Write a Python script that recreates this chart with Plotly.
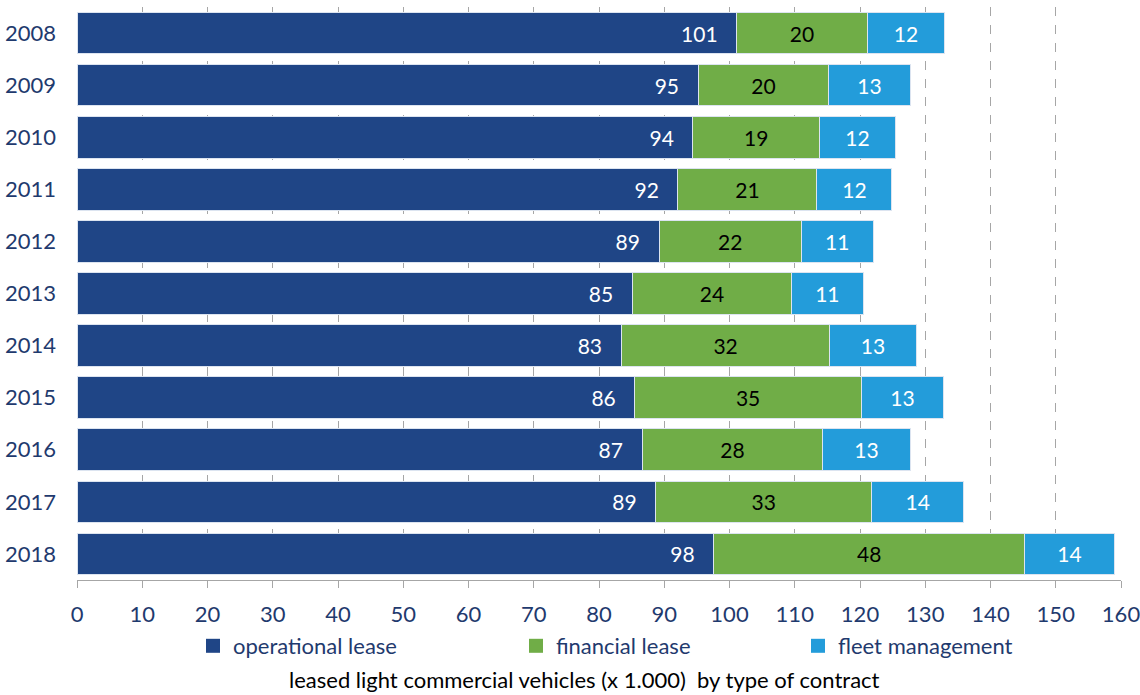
import plotly.graph_objects as go

years = ["2008", "2009", "2010", "2011", "2012", "2013", "2014", "2015", "2016", "2017", "2018"]
operational = [101.1, 95.2, 94.4, 92.1, 89.2, 85.1, 83.4, 85.5, 86.6, 88.7, 97.6]
financial = [20.0, 20.0, 19.4, 21.3, 21.8, 24.4, 32.0, 34.7, 27.7, 33.1, 47.6]
fleet = [11.9, 12.5, 11.6, 11.5, 11.0, 11.0, 13.2, 12.6, 13.4, 14.1, 13.8]
x_ticks = list(range(0, 161, 10))
series_names = ["operational lease", "financial lease", "fleet management"]

FONT = "Lato, Calibri, Arial, sans-serif"
DARK = "#1F3A6E"
C_OP = "#1F4586"
C_FIN = "#70AD47"
C_FLEET = "#239CDA"
colors = [C_OP, C_FIN, C_FLEET]
label_colors = ["white", "black", "white"]
anchors = ["end", "middle", "middle"]
templates = ["%{x:.0f}\u00a0\u00a0\u00a0", "%{x:.0f}", "%{x:.0f}"]

# plot area in pixels
PL, PR, PT, PB = 77, 1121, 7, 580
PW, PH = PR - PL, PB - PT


def px_x(px):
    return (px - PL) / PW


def px_y(py):
    return (PB - py) / PH


fig = go.Figure()
for vals, name, col, lcol, anc, tpl in zip([operational, financial, fleet], series_names,
                                           colors, label_colors, anchors, templates):
    fig.add_trace(go.Bar(
        y=years, x=vals, orientation="h", name=name, showlegend=False,
        marker=dict(color=col, line=dict(color="#DCE4F0", width=1)),
        texttemplate=tpl, textposition="inside", insidetextanchor=anc,
        textfont=dict(color=lcol, size=21, family=FONT), hoverinfo="skip"))

# legend entries (square swatches)
for i, (name, col) in enumerate(zip(series_names, colors)):
    fig.add_trace(go.Scatter(
        x=[None], y=[None], mode="markers", name=name,
        marker=dict(symbol="square", size=14, color=col),
        legend="legend" if i == 0 else f"legend{i + 1}", hoverinfo="skip"))

leg = dict(orientation="h", yanchor="middle", xanchor="left", bgcolor="rgba(0,0,0,0)",
           font=dict(size=22, family=FONT, color=DARK), itemwidth=30)

fig.update_layout(
    width=1140, height=695,
    barmode="stack", bargap=0.2,
    plot_bgcolor="white", paper_bgcolor="white",
    margin=dict(l=PL, r=1140 - PR, t=PT, b=695 - PB, autoexpand=False),
    font=dict(family=FONT, size=21, color=DARK),
    xaxis=dict(range=[0, 160], tickvals=x_ticks, showgrid=True, gridcolor="#A6A6A6",
               griddash="dash", gridwidth=1, zeroline=False, showline=True,
               linecolor="#A6A6A6", linewidth=1, ticks="outside", ticklen=7,
               tickcolor="#A6A6A6", ticklabelstandoff=8, ticklabeloverflow="allow",
               tickfont=dict(size=22, color=DARK, family=FONT)),
    yaxis=dict(autorange="reversed", showgrid=False, zeroline=False, showline=False,
               ticks="", ticklabelstandoff=20,
               tickfont=dict(size=22, color=DARK, family=FONT)),
    legend=dict(leg, x=px_x(193), y=px_y(646)),
    legend2=dict(leg, x=px_x(516), y=px_y(646)),
    legend3=dict(leg, x=px_x(798), y=px_y(646)),
    annotations=[
        dict(text="leased light commercial vehicles (x 1.000)  by type of contract",
             xref="paper", yref="paper", x=px_x(584), y=px_y(679),
             xanchor="center", yanchor="middle", showarrow=False,
             font=dict(size=22, color="black", family=FONT)),
        dict(text="VNA", xref="paper", yref="paper", x=px_x(44),
             y=px_y(688), xanchor="left", yanchor="top", showarrow=False,
             font=dict(size=22, color=C_OP, family=FONT)),
    ],
)

fig.write_html(
    "out.html",
    config={"displayModeBar": False},
    post_script="document.body.style.margin='0';document.body.style.overflow='hidden';",
)
